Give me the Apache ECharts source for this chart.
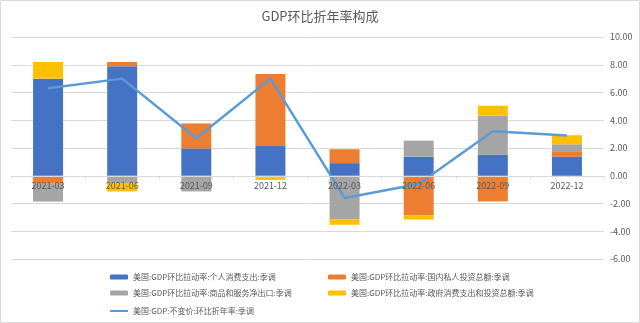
<!DOCTYPE html>
<html><head><meta charset="utf-8">
<script src="https://cdn.jsdelivr.net/npm/echarts@6/dist/echarts.min.js"></script>
<style>html,body{margin:0;padding:0;background:#fff}#c{width:640px;height:323px}</style>
</head><body><div id="c"></div>
<script>
var categories = ['2021-03','2021-06','2021-09','2021-12','2022-03','2022-06','2022-09','2022-12'];
var pce = [7.0, 7.9, 1.97, 2.14, 0.91, 1.37, 1.52, 1.37];
var investment = [-0.53, 0.3, 1.8, 5.2, 1.0, -2.86, -1.85, 0.4];
var netExports = [-1.33, -0.53, -1.13, -0.1, -3.13, 1.16, 2.83, 0.5];
var government = [1.2, -0.6, 0.0, -0.2, -0.4, -0.3, 0.7, 0.65];
var gdp = [6.3, 7.0, 2.7, 7.0, -1.6, -0.6, 3.2, 2.9];
var names = ['美国:GDP环比拉动率:个人消费支出:季调','美国:GDP环比拉动率:国内私人投资总额:季调','美国:GDP环比拉动率:商品和服务净出口:季调','美国:GDP环比拉动率:政府消费支出和投资总额:季调','美国:GDP:不变价:环比折年率:季调'];
var colors = ['#4472c4','#ed7d31','#a5a5a5','#ffc000','#5b9bd5'];
var font = '"Noto Sans CJK SC", "Microsoft YaHei", sans-serif';
var chart = echarts.init(document.getElementById('c'));
function bar(i, data){
  return {name:names[i], type:'bar', stack:'a', data:data, barWidth:30, itemStyle:{color:colors[i]}};
}
var legText = {fontSize:8, color:'#595959', fontFamily:font};
chart.setOption({
  animation:false,
  textStyle:{fontFamily:font},
  title:{text:'GDP环比折年率构成', left:'center', top:5, textStyle:{fontSize:13, fontWeight:'normal', color:'#595959', fontFamily:font}},
  grid:{left:11, right:36, top:37, bottom:64},
  graphic:[{type:'rect', shape:{x:0.5,y:0.5,width:639,height:322}, style:{fill:'none', stroke:'#d9d9d9', lineWidth:1}, silent:true}],
  legend:[
    {orient:'vertical', left:105, top:268, itemGap:8, itemWidth:18, itemHeight:5, textStyle:legText, data:[names[0],names[2]]},
    {orient:'vertical', left:105, top:302, itemWidth:18, itemHeight:2, icon:'rect', textStyle:legText, data:[names[4]]},
    {orient:'vertical', left:323, top:268, itemGap:8, itemWidth:18, itemHeight:5, textStyle:legText, data:[names[1],names[3]]}
  ],
  xAxis:{type:'category', data:categories, z:10, offset:-83,
    axisLine:{onZero:false, lineStyle:{color:'#d9d9d9'}},
    axisTick:{show:true, length:3, lineStyle:{color:'#d9d9d9'}},
    axisLabel:{fontSize:9, color:'#595959', margin:5, fontFamily:font}},
  yAxis:{type:'value', position:'right', min:-6, max:10, interval:2,
    axisLine:{show:false}, axisTick:{show:false},
    splitLine:{lineStyle:{color:'#d9d9d9'}},
    axisLabel:{fontSize:9, color:'#595959', margin:6, formatter:function(v){return v.toFixed(2);}}},
  series:[
    bar(0,pce), bar(1,investment), bar(2,netExports), bar(3,government),
    {name:names[4], type:'line', data:gdp, symbol:'none', z:5, lineStyle:{color:colors[4], width:2.5}, itemStyle:{color:colors[4]}}
  ]
});
</script></body></html>
